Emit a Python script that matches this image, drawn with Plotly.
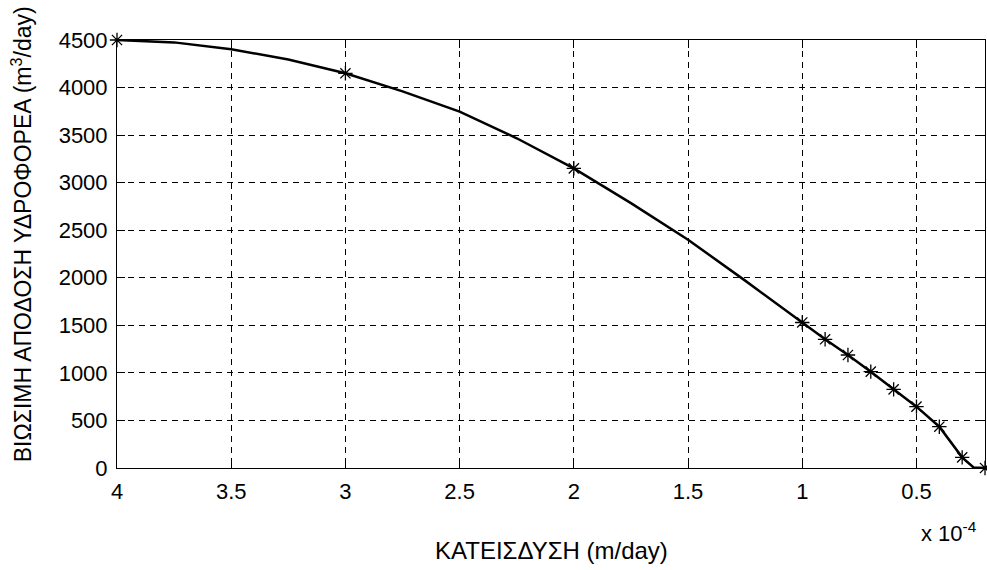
import plotly.graph_objects as go

# Recharge (x 1e-4 m/day) vs sustainable aquifer yield (m3/day)
curve_x = [4, 3.75, 3.5, 3.25, 3, 2.75, 2.5, 2.25, 2, 1.75, 1.5, 1.25,
           1, 0.9, 0.8, 0.7, 0.6, 0.5, 0.4, 0.3, 0.25, 0.2]
curve_y = [4500, 4475, 4403, 4295, 4150, 3960, 3747, 3467, 3150, 2785, 2400, 1970,
           1530, 1353, 1188, 1013, 827, 645, 434, 112, 5, 0]

# Computed runs (marked with asterisks)
mark_x = [4, 3, 2, 1, 0.9, 0.8, 0.7, 0.6, 0.5, 0.4, 0.3, 0.2]
mark_y = [4500, 4150, 3150, 1530, 1353, 1188, 1013, 827, 645, 434, 112, 0]

x_ticks = [4, 3.5, 3, 2.5, 2, 1.5, 1, 0.5]
x_labels = ["4", "3.5", "3", "2.5", "2", "1.5", "1", "0.5"]
y_ticks = [0, 500, 1000, 1500, 2000, 2500, 3000, 3500, 4000, 4500]
y_labels = [str(v) for v in y_ticks]

FONT = "Liberation Sans, Arial, sans-serif"
TICK_SIZE = 22
LABEL_SIZE = 24

fig = go.Figure()
fig.add_trace(go.Scatter(
    x=curve_x, y=curve_y, mode="lines",
    line=dict(color="black", width=2.5),
    hoverinfo="skip", showlegend=False,
))
fig.add_trace(go.Scatter(
    x=mark_x, y=mark_y, mode="markers",
    marker=dict(symbol="asterisk-open", size=12, color="black",
                line=dict(color="black", width=1.3)),
    showlegend=False, cliponaxis=False,
))

axis_common = dict(
    showline=True, linecolor="black", linewidth=1,
    mirror="ticks", ticks="inside", ticklen=8, tickwidth=1, tickcolor="black",
    showgrid=True, gridcolor="black", gridwidth=1, griddash="6px,5px",
    zeroline=False,
    tickfont=dict(family=FONT, size=TICK_SIZE, color="black"),
)

fig.update_xaxes(range=[4, 0.2], tickvals=x_ticks, ticktext=x_labels,
                 ticklabelstandoff=4, **axis_common)
fig.update_yaxes(range=[0, 4500], tickvals=y_ticks, ticktext=y_labels,
                 ticklabelstandoff=4, **axis_common)

fig.update_layout(
    width=987, height=570,
    margin=dict(l=117, r=2, t=40, b=102),
    paper_bgcolor="white", plot_bgcolor="white",
    font=dict(family=FONT, size=TICK_SIZE, color="black"),
    annotations=[
        dict(text="ΚΑΤΕΙΣΔΥΣΗ (m/day)", xref="paper", yref="paper",
             x=0.5, y=-0.192, xanchor="center", yanchor="middle",
             showarrow=False, font=dict(family=FONT, size=LABEL_SIZE, color="black")),
        dict(text="ΒΙΩΣΙΜΗ ΑΠΟΔΟΣΗ ΥΔΡΟΦΟΡΕΑ (m<sup>3</sup>/day)",
             xref="paper", yref="paper", x=-0.110, y=0.545,
             xanchor="center", yanchor="middle", textangle=-90,
             showarrow=False, font=dict(family=FONT, size=23, color="black")),
        dict(text="x 10<sup>-4</sup>", xref="paper", yref="paper",
             x=0.993, y=-0.150, xanchor="right", yanchor="middle",
             showarrow=False, font=dict(family=FONT, size=TICK_SIZE, color="black")),
    ],
)

fig.write_html("out.html")
